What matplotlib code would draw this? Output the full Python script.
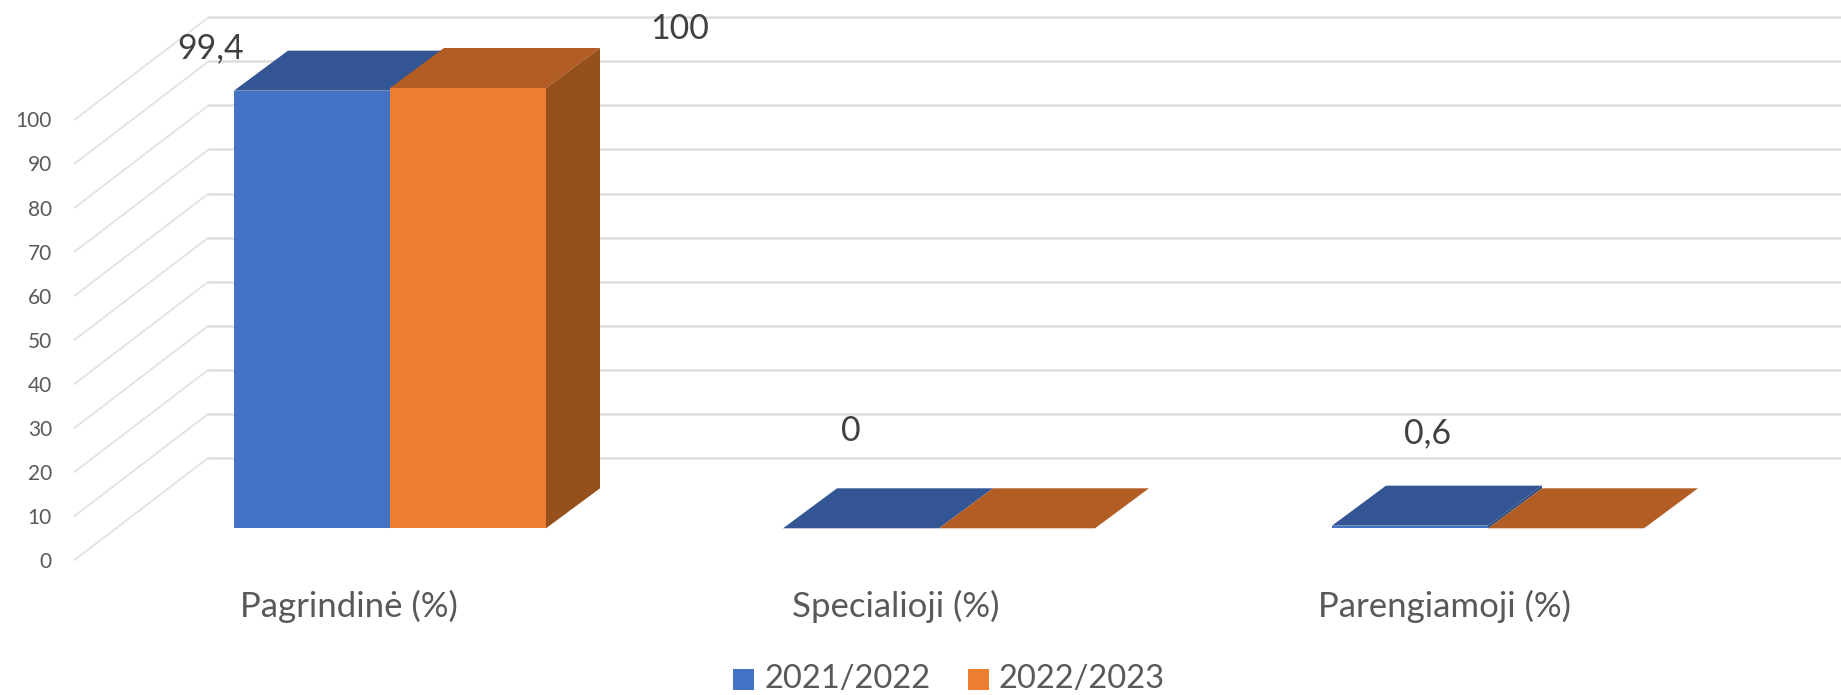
import matplotlib
matplotlib.use('Agg')
from matplotlib import pyplot as plt

plt.rcParams['font.family'] = ['Lato', 'DejaVu Sans']

categories = ['Pagrindinė (%)', 'Specialioji (%)', 'Parengiamoji (%)']
series_names = ['2021/2022', '2022/2023']
values_2021 = [99.4, 0, 0.6]
values_2022 = [100, 0, 0]
y_ticks = list(range(0, 101, 10))

blue, blue_top, blue_side = '#4472C4', '#335593', '#2A4A80'
orange, orange_top, orange_side = '#ED7D31', '#B25D23', '#96501C'
grid_color = '#DEDEDE'
wall_color = '#E2E2E2'
text_color = '#404040'
tick_color = '#595959'

# whole figure is one axes: x in category units, y in percent
W, H = 1841, 695
px_x = 549.0      # pixels per category
px_y = 4.403      # pixels per percent
x0_px, y0_px = 390, 528.3
bar_w = 156 / px_x
depth_x = 54 / px_x
depth_y = 40 / px_y


def to_x(p):
    return (p - x0_px) / px_x


def to_y(p):
    return (y0_px - p) / px_y


fig = plt.figure(figsize=(W / 100, H / 100), dpi=100)
ax = fig.add_axes([0, 0, 1, 1])
ax.set_xlim(to_x(0), to_x(W))
ax.set_ylim(to_y(H), to_y(0))
ax.axis('off')

# walls
wall_front_x, wall_back_x = to_x(74.5), to_x(208.5)
wall_front_off, wall_back_off = to_y(560), to_y(457.7)
for t in y_ticks:
    ax.plot([wall_back_x, to_x(W)], [t + wall_back_off] * 2, color=grid_color, lw=1.8, zorder=1)
    ax.plot([wall_front_x, wall_back_x], [t + wall_front_off, t + wall_back_off],
            color=wall_color, lw=1.3, zorder=1)
    ax.text(to_x(52), t + wall_front_off - 0.4, str(t), ha='right', va='center',
            fontsize=15, color=tick_color)


def box(x, v, color, top, side, z=3):
    ax.bar(x, v, width=bar_w, align='edge', color=color, linewidth=0, zorder=z)
    ax.fill([x, x + bar_w, x + bar_w + depth_x, x + depth_x],
            [v, v, v + depth_y, v + depth_y], color=top, lw=0, zorder=z)
    ax.fill([x + bar_w, x + bar_w + depth_x, x + bar_w + depth_x, x + bar_w],
            [0, depth_y, v + depth_y, v], color=side, lw=0, zorder=z)


for i in range(len(categories)):
    box(i - bar_w, values_2021[i], blue, blue_top, blue_side, z=3)
    box(i, values_2022[i], orange, orange_top, orange_side, z=4)

# data labels, placed by hand like in the source chart
label_texts = ['99,4', '100', '0', '0,6']
label_px = [(211, 48), (680, 29), (850.6, 431), (1428, 433)]
for s, (lx, ly) in zip(label_texts, label_px):
    ax.text(to_x(lx), to_y(ly), s, ha='center', va='center', fontsize=24.5, color=text_color)

cat_px = [349, 896, 1444.6]
for s, cx in zip(categories, cat_px):
    ax.text(to_x(cx), to_y(606), s, ha='center', va='center', fontsize=25, color=tick_color)

# legend
leg_patch_px = [733, 968]
leg_colors = [blue, orange]
for s, lx, c in zip(series_names, leg_patch_px, leg_colors):
    ax.fill([to_x(lx), to_x(lx + 21), to_x(lx + 21), to_x(lx)],
            [to_y(690), to_y(690), to_y(669), to_y(669)], color=c, lw=0)
    ax.text(to_x(lx + 31), to_y(679), s, ha='left', va='center', fontsize=23.5, color=tick_color)

fig.savefig('out.png', dpi=100)
